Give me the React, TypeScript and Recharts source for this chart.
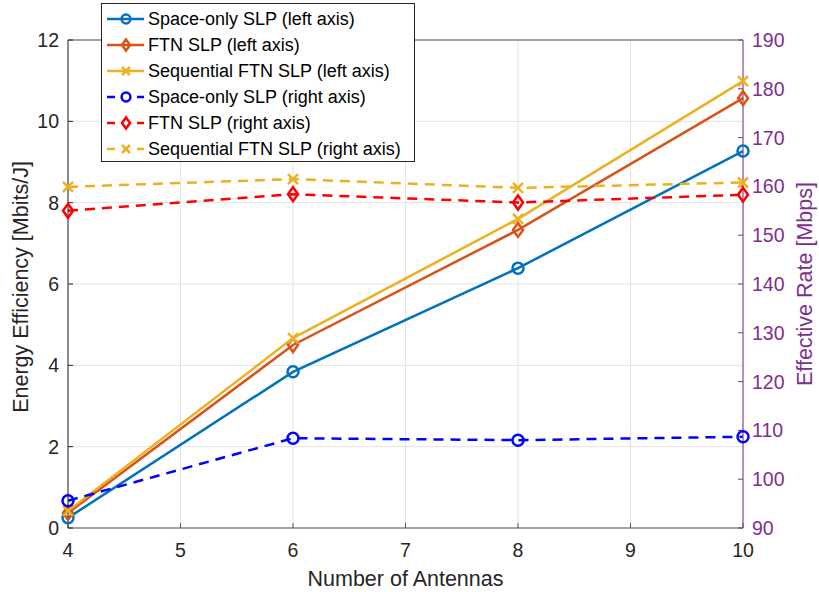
import React from 'react';
import { LineChart, Line, XAxis, YAxis, CartesianGrid, ReferenceLine, Legend } from 'recharts';

const antennas = [4, 6, 8, 10];
const spaceLeft = [0.25, 3.84, 6.39, 9.27];
const ftnLeft = [0.37, 4.5, 7.33, 10.57];
const seqLeft = [0.42, 4.67, 7.6, 10.99];
const spaceRight = [95.6, 108.4, 108.0, 108.7];
const ftnRight = [155.0, 158.4, 156.7, 158.3];
const seqRight = [159.9, 161.5, 159.7, 160.8];

const xTicks = [4, 5, 6, 7, 8, 9, 10];
const leftTicks = [0, 2, 4, 6, 8, 10, 12];
const rightTicks = [90, 100, 110, 120, 130, 140, 150, 160, 170, 180, 190];

const data = antennas.map((a, i) => ({
  n: a,
  spaceLeft: spaceLeft[i],
  ftnLeft: ftnLeft[i],
  seqLeft: seqLeft[i],
  spaceRight: spaceRight[i],
  ftnRight: ftnRight[i],
  seqRight: seqRight[i],
}));

const FONT = '"Liberation Sans", Arial, Helvetica, sans-serif';
const PURPLE = '#7E2F8E';
const AX = '#262626';
const TICK_FS = 19.5;
const LABEL_FS = 21.5;

type Mk = 'circle' | 'diamond' | 'cross';

const marker = (kind: Mk, cx: number, cy: number, color: string, key?: any, s = 1) => {
  if (kind === 'circle') return <circle key={key} cx={cx} cy={cy} r={5.5 * s} fill="none" stroke={color} strokeWidth={2.5} />;
  if (kind === 'diamond')
    return (
      <polygon
        key={key}
        points={`${cx},${cy - 7 * s} ${cx + 5 * s},${cy} ${cx},${cy + 7 * s} ${cx - 5 * s},${cy}`}
        fill="none"
        stroke={color}
        strokeWidth={2.5}
      />
    );
  return (
    <g key={key}>
      <line x1={cx - 5 * s} y1={cy - 5 * s} x2={cx + 5 * s} y2={cy + 5 * s} stroke={color} strokeWidth={2.5} />
      <line x1={cx - 5 * s} y1={cy + 5 * s} x2={cx + 5 * s} y2={cy - 5 * s} stroke={color} strokeWidth={2.5} />
    </g>
  );
};

const dotFn = (kind: Mk, color: string) => (props: any) => marker(kind, props.cx, props.cy, color, `d-${props.index}`);

const series = [
  { key: 'spaceLeft', name: 'Space-only SLP (left axis)', color: '#0072BD', mk: 'circle' as Mk, dashed: false, axis: 'left' },
  { key: 'ftnLeft', name: 'FTN SLP (left axis)', color: '#D95319', mk: 'diamond' as Mk, dashed: false, axis: 'left' },
  { key: 'seqLeft', name: 'Sequential FTN SLP (left axis)', color: '#EDB120', mk: 'cross' as Mk, dashed: false, axis: 'left' },
  { key: 'spaceRight', name: 'Space-only SLP (right axis)', color: '#0000FF', mk: 'circle' as Mk, dashed: true, axis: 'right' },
  { key: 'ftnRight', name: 'FTN SLP (right axis)', color: '#FF0000', mk: 'diamond' as Mk, dashed: true, axis: 'right' },
  { key: 'seqRight', name: 'Sequential FTN SLP (right axis)', color: '#EDB120', mk: 'cross' as Mk, dashed: true, axis: 'right' },
];

const LegendBox = () => (
  <div
    style={{
      width: 312,
      height: 155,
      border: '1px solid #262626',
      background: '#fff',
      boxSizing: 'content-box',
      paddingTop: 2,
    }}
  >
    {series.map((s) => (
      <div key={s.key} style={{ height: 26, display: 'flex', alignItems: 'center' }}>
        <svg width={46} height={26} style={{ display: 'block', flex: 'none' }}>
          {s.dashed ? (
            <>
              <line x1={5} y1={13} x2={13} y2={13} stroke={s.color} strokeWidth={2.5} />
              <line x1={35} y1={13} x2={42} y2={13} stroke={s.color} strokeWidth={2.5} />
            </>
          ) : (
            <line x1={5} y1={13} x2={42} y2={13} stroke={s.color} strokeWidth={2.5} />
          )}
          {marker(s.mk, 24, 13, s.color, undefined, 0.8)}
        </svg>
        <span style={{ fontFamily: FONT, fontSize: 18, color: '#000', whiteSpace: 'nowrap' }}>{s.name}</span>
      </div>
    ))}
  </div>
);

export default function App() {
  return (
    <div style={{ position: 'absolute', left: 0, top: 0, width: 819, height: 592, background: '#fff' }}>
      <LineChart width={819} height={592} data={data} margin={{ top: 40, right: 0, bottom: 0, left: 0 }}>
        <CartesianGrid xAxisId="b" yAxisId="left" stroke="#e3e3e3" strokeWidth={1} />
        <XAxis
          xAxisId="b"
          dataKey="n"
          type="number"
          domain={[4, 10]}
          ticks={xTicks}
          height={64}
          stroke="#555"
          tickSize={-5}
          tickMargin={20}
          tick={{ fill: AX, fontSize: TICK_FS, fontFamily: FONT }}
          label={{ value: 'Number of Antennas', position: 'center', dy: 18, style: { fill: AX, fontSize: LABEL_FS, fontFamily: FONT } }}
        />
        <XAxis
          xAxisId="t"
          orientation="top"
          dataKey="n"
          type="number"
          domain={[4, 10]}
          ticks={xTicks}
          height={0}
          stroke="#555"
          tickSize={-5}
          tick={{ fill: 'none', fontSize: 1 }}
        />
        <YAxis
          yAxisId="left"
          domain={[0, 12]}
          ticks={leftTicks}
          width={68}
          stroke={AX}
          tickSize={-5}
          tickMargin={14}
          tick={{ fill: AX, fontSize: TICK_FS, fontFamily: FONT }}
          label={{ value: 'Energy Efficiency [Mbits/J]', angle: -90, position: 'center', dx: -14, dy: 3, style: { fill: AX, fontSize: LABEL_FS, fontFamily: FONT } }}
        />
        <YAxis
          yAxisId="right"
          orientation="right"
          domain={[90, 190]}
          ticks={rightTicks}
          width={76}
          stroke={PURPLE}
          tickSize={-5}
          tickMargin={14}
          tick={{ fill: PURPLE, fontSize: TICK_FS, fontFamily: FONT }}
          label={{ value: 'Effective Rate [Mbps]', angle: -90, position: 'center', dx: 23, style: { fill: PURPLE, fontSize: LABEL_FS, fontFamily: FONT } }}
        />
        <ReferenceLine xAxisId="b" yAxisId="left" y={12} stroke="#555" />
        {series.map((s) => (
          <Line
            key={s.key}
            xAxisId="b"
            yAxisId={s.axis}
            dataKey={s.key}
            name={s.name}
            stroke={s.color}
            strokeWidth={2.5}
            strokeDasharray={s.dashed ? '10 7' : undefined}
            dot={dotFn(s.mk, s.color)}
            activeDot={false}
            isAnimationActive={false}
          />
        ))}
        <Legend
          layout="vertical"
          align="center"
          verticalAlign="middle"
          content={() => <LegendBox />}
          wrapperStyle={{ position: 'absolute', left: 101, top: 3, width: 314, height: 158, bottom: 'auto', right: 'auto' }}
        />
      </LineChart>
    </div>
  );
}
